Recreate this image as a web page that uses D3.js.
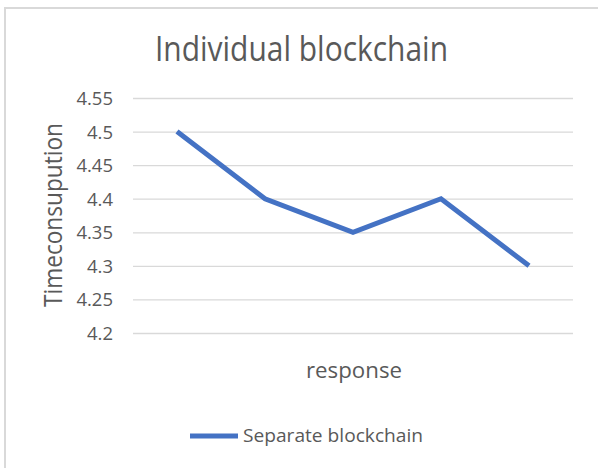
<!DOCTYPE html>
<html><head><meta charset="utf-8">
<script src="https://cdn.jsdelivr.net/npm/d3@7"></script>
<style>html,body{margin:0;padding:0;background:#fff;}svg{display:block;}</style>
</head><body>
<script>
const categories = ["1", "2", "3", "4", "5"];
const values = [4.5, 4.4, 4.35, 4.4, 4.3];
const yTicks = [4.2, 4.25, 4.3, 4.35, 4.4, 4.45, 4.5, 4.55];
const yTickLabels = ["4.2", "4.25", "4.3", "4.35", "4.4", "4.45", "4.5", "4.55"];
const seriesName = "Separate blockchain";
const title = "Individual blockchain";
const xTitle = "response";
const yTitle = "Timeconsupution";

const W = 598, H = 468;
const font = "'Open Sans', 'DejaVu Sans', sans-serif";
const textCol = "#595959";
const svg = d3.select("body").append("svg").attr("width", W).attr("height", H);
svg.append("rect").attr("width", W).attr("height", H).attr("fill", "#fff");
// chart border (top & left visible)
svg.append("path").attr("d", `M5,${H} L5,8 L${W},8`).attr("fill", "none")
  .attr("stroke", "#d9d9d9").attr("stroke-width", 2);

const m = {l: 133, r: 573, t: 98, b: 333};
const x = d3.scalePoint().domain(categories).range([m.l, m.r]).padding(0.5);
const y = d3.scaleLinear().domain([4.2, 4.55]).range([m.b, m.t]);

const yAxis = d3.axisLeft(y).tickValues(yTicks).tickSize(-(m.r - m.l))
  .tickPadding(20).tickFormat((d, i) => yTickLabels[i]);
const ga = svg.append("g").attr("transform", `translate(${m.l},0)`).call(yAxis);
ga.select(".domain").remove();
ga.selectAll(".tick line").attr("stroke", "#d9d9d9").attr("stroke-width", 1.3);
ga.selectAll(".tick text").attr("font-family", font).attr("font-size", 18.5)
  .attr("fill", textCol).attr("dy", "0.35em");

const line = d3.line().x((d, i) => x(categories[i])).y(d => y(d));
svg.append("path").datum(values).attr("d", line).attr("fill", "none")
  .attr("stroke", "#4472C4").attr("stroke-width", 5).attr("stroke-linejoin", "miter");

function fitText(sel, len) {
  sel.attr("textLength", len).attr("lengthAdjust", "spacingAndGlyphs");
}
const t = svg.append("text").attr("x", 301.5).attr("y", 61).attr("text-anchor", "middle")
  .attr("font-family", font).attr("font-size", 35).attr("fill", textCol).text(title);
fitText(t, 293);

const yt = svg.append("text").attr("transform", "translate(62,215) rotate(-90)")
  .attr("text-anchor", "middle").attr("font-family", font).attr("font-size", 25)
  .attr("fill", textCol).text(yTitle);
fitText(yt, 184);

const xt = svg.append("text").attr("x", 354).attr("y", 378).attr("text-anchor", "middle")
  .attr("font-family", font).attr("font-size", 21).attr("fill", textCol).text(xTitle);
fitText(xt, 96);

svg.append("line").attr("x1", 190).attr("x2", 238).attr("y1", 436).attr("y2", 436)
  .attr("stroke", "#4472C4").attr("stroke-width", 5);
const lt = svg.append("text").attr("x", 243).attr("y", 442)
  .attr("font-family", font).attr("font-size", 19).attr("fill", textCol).text(seriesName);
fitText(lt, 180);
</script>
</body></html>
